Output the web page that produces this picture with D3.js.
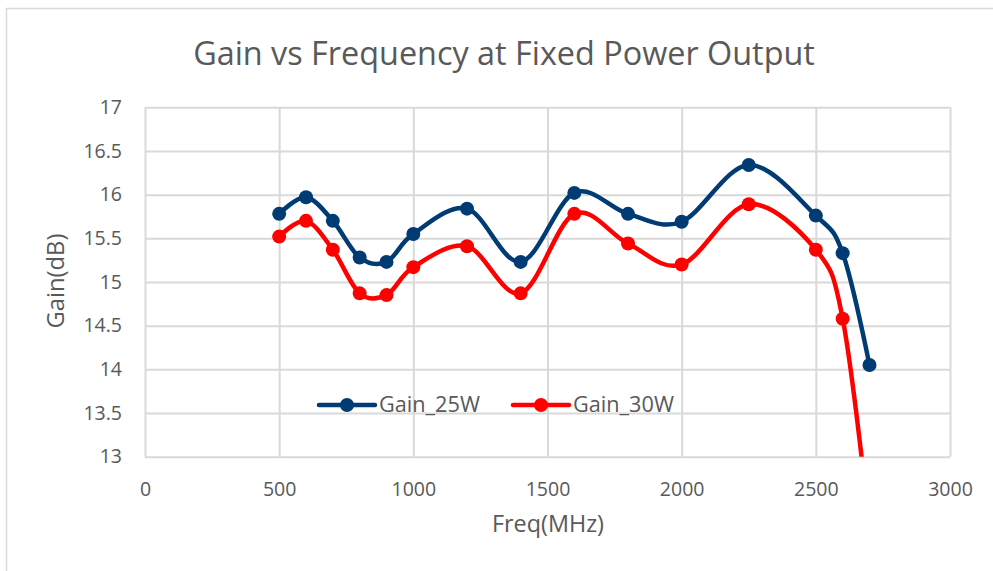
<!DOCTYPE html>
<html>
<head>
<meta charset="utf-8">
<script src="https://cdn.jsdelivr.net/npm/d3@7"></script>
<style>
  body { margin: 0; background: #fff; }
  svg { display: block; font-family: "Open Sans", sans-serif; }
</style>
</head>
<body>
<svg id="chart" width="993" height="571"></svg>
<script>
// data
const freqs = [500, 600, 700, 800, 900, 1000, 1200, 1400, 1600, 1800, 2000, 2250, 2500, 2600, 2700];
const gain25W = [15.78, 15.97, 15.70, 15.28, 15.23, 15.55, 15.84, 15.23, 16.02, 15.78, 15.69, 16.34, 15.76, 15.33, 14.05];
const gain30W = [15.52, 15.70, 15.37, 14.87, 14.85, 15.17, 15.41, 14.87, 15.78, 15.44, 15.20, 15.89, 15.37, 14.58, 12.2];
const xTicks = [0, 500, 1000, 1500, 2000, 2500, 3000];
const yTicks = [13, 13.5, 14, 14.5, 15, 15.5, 16, 16.5, 17];
const seriesNames = ["Gain_25W", "Gain_30W"];
const seriesColors = ["#003b73", "#ff0000"];

const svg = d3.select("#chart");
const plot = { left: 145, right: 950, top: 107.3, bottom: 456.7 };

const x = d3.scaleLinear().domain([0, 3000]).range([plot.left, plot.right]);
const y = d3.scaleLinear().domain([13, 17]).range([plot.bottom, plot.top]);

// shrink or grow a text's font size so it spans a given width
function fitText(sel, width) {
  const node = sel.node();
  const fs = parseFloat(sel.attr("font-size"));
  const w = node.getComputedTextLength();
  sel.attr("font-size", (fs * width / w).toFixed(2));
}

// chart frame (only top and left edges show)
svg.append("line").attr("x1", 6).attr("x2", 993).attr("y1", 8.5).attr("y2", 8.5)
  .attr("stroke", "#d9d9d9").attr("stroke-width", 1.5);
svg.append("line").attr("x1", 6.5).attr("x2", 6.5).attr("y1", 8).attr("y2", 571)
  .attr("stroke", "#d9d9d9").attr("stroke-width", 1.5);

// gridlines
svg.append("g")
  .attr("transform", "translate(0," + plot.bottom + ")")
  .call(d3.axisBottom(x).tickValues(xTicks).tickSize(-(plot.bottom - plot.top)).tickFormat(""))
  .call(g => g.select(".domain").remove())
  .call(g => g.selectAll("line").attr("stroke", "#d9d9d9").attr("stroke-width", 2));

svg.append("g")
  .attr("transform", "translate(" + plot.left + ",0)")
  .call(d3.axisLeft(y).tickValues(yTicks).tickSize(-(plot.right - plot.left)).tickFormat(""))
  .call(g => g.select(".domain").remove())
  .call(g => g.selectAll("line").attr("stroke", "#d9d9d9").attr("stroke-width", 2));

// tick labels
svg.append("g")
  .attr("transform", "translate(0," + plot.bottom + ")")
  .call(d3.axisBottom(x).tickValues(xTicks).tickSize(0).tickPadding(25).tickFormat(d3.format("")))
  .call(g => g.select(".domain").remove())
  .call(g => g.selectAll("text").attr("font-size", 19.5).attr("fill", "#595959")
    .attr("font-family", "Open Sans, sans-serif"));

svg.append("g")
  .attr("transform", "translate(" + (plot.left - 23) + ",0)")
  .call(d3.axisLeft(y).tickValues(yTicks).tickSize(0).tickPadding(0).tickFormat(d3.format("")))
  .call(g => g.select(".domain").remove())
  .call(g => g.selectAll("text").attr("font-size", 19.5).attr("fill", "#595959")
    .attr("font-family", "Open Sans, sans-serif"));

// title and axis titles
const title = svg.append("text")
  .attr("x", 504).attr("y", 65)
  .attr("text-anchor", "middle")
  .attr("font-size", 28).attr("fill", "#595959")
  .text("Gain vs Frequency at Fixed Power Output");
fitText(title, 622);

const xTitle = svg.append("text")
  .attr("x", 548).attr("y", 532)
  .attr("text-anchor", "middle")
  .attr("font-size", 20).attr("fill", "#595959")
  .text("Freq(MHz)");
fitText(xTitle, 112);

const yTitle = svg.append("text")
  .attr("transform", "translate(64,281) rotate(-90)")
  .attr("text-anchor", "middle")
  .attr("font-size", 20).attr("fill", "#595959")
  .text("Gain(dB)");
fitText(yTitle, 95);

// clip so the red line stops at the bottom of the plot
svg.append("clipPath").attr("id", "plot-clip")
  .append("rect")
  .attr("x", plot.left).attr("y", plot.top)
  .attr("width", plot.right - plot.left).attr("height", plot.bottom - plot.top);

const series = [gain25W, gain30W];
const line = d3.line()
  .x(d => x(d[0]))
  .y(d => y(d[1]))
  .curve(d3.curveCatmullRom.alpha(0));

series.forEach(function (vals, i) {
  const pts = freqs.map((f, j) => [f, vals[j]]);
  const g = svg.append("g").attr("clip-path", "url(#plot-clip)");
  g.append("path")
    .attr("d", line(pts))
    .attr("fill", "none")
    .attr("stroke", seriesColors[i])
    .attr("stroke-width", 4.5)
    .attr("stroke-linecap", "round");
  g.selectAll("circle")
    .data(pts.filter(p => p[1] >= 13))
    .join("circle")
    .attr("cx", d => x(d[0]))
    .attr("cy", d => y(d[1]))
    .attr("r", 7)
    .attr("fill", seriesColors[i]);
});

// legend
const legendX = [319, 513];
seriesNames.forEach(function (name, i) {
  const lg = svg.append("g").attr("transform", "translate(" + legendX[i] + ",405)");
  lg.append("line").attr("x1", 0).attr("x2", 56)
    .attr("stroke", seriesColors[i]).attr("stroke-width", 4.5).attr("stroke-linecap", "round");
  lg.append("circle").attr("cx", 28).attr("r", 7).attr("fill", seriesColors[i]);
  const t = lg.append("text").attr("x", 60).attr("y", 7)
    .attr("font-size", 19.5).attr("fill", "#595959").text(name);
  fitText(t, 101);
});
</script>
</body>
</html>
